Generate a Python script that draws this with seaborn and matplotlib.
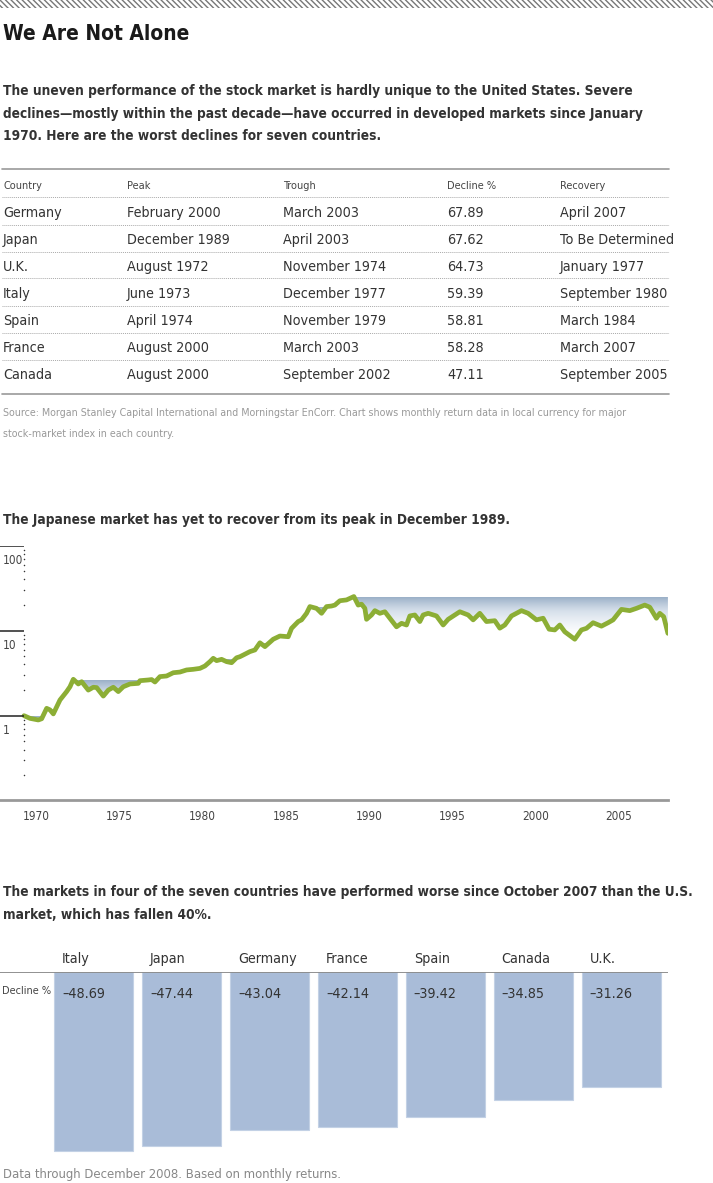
import numpy as np
import matplotlib.pyplot as plt
import seaborn as sns
from matplotlib import font_manager
from matplotlib.colors import LinearSegmentedColormap
from matplotlib.lines import Line2D
from matplotlib.patches import Rectangle, Polygon

# ---- data ----
table_headers = ['Country', 'Peak', 'Trough', 'Decline %', 'Recovery']
table_countries = ['Germany', 'Japan', 'U.K.', 'Italy', 'Spain', 'France', 'Canada']
table_peaks = ['February 2000', 'December 1989', 'August 1972', 'June 1973',
               'April 1974', 'August 2000', 'August 2000']
table_troughs = ['March 2003', 'April 2003', 'November 1974', 'December 1977',
                 'November 1979', 'March 2003', 'September 2002']
table_declines = [67.89, 67.62, 64.73, 59.39, 58.81, 58.28, 47.11]
table_recoveries = ['April 2007', 'To Be Determined', 'January 1977', 'September 1980',
                    'March 1984', 'March 2007', 'September 2005']

# Japan index, growth of 1 since Jan 1970
japan_years = [1970.0, 1970.36, 1970.86, 1971.06, 1971.36, 1971.56, 1971.76, 1972.16,
               1972.56, 1972.76, 1972.96, 1973.26, 1973.46, 1973.86, 1974.16, 1974.36,
               1974.76, 1975.06, 1975.36, 1975.66, 1975.96, 1976.36, 1976.86, 1976.96,
               1977.46, 1977.66, 1977.86, 1978.16, 1978.56, 1978.96, 1979.36, 1979.76,
               1980.16, 1980.56, 1980.86, 1981.16, 1981.36, 1981.56, 1981.86, 1982.16,
               1982.46, 1982.76, 1982.96, 1983.16, 1983.56, 1983.86, 1984.16, 1984.46,
               1984.96, 1985.36, 1985.86, 1986.06, 1986.46, 1986.66, 1986.96, 1987.16,
               1987.56, 1987.86, 1988.16, 1988.46, 1988.66, 1988.96, 1989.36, 1989.8,
               1990.06, 1990.26, 1990.46, 1990.56, 1990.86, 1991.06, 1991.36, 1991.66,
               1991.96, 1992.36, 1992.66, 1992.96, 1993.16, 1993.46, 1993.76, 1993.96,
               1994.26, 1994.76, 1995.16, 1995.46, 1995.86, 1996.16, 1996.66, 1996.96,
               1997.36, 1997.76, 1998.26, 1998.56, 1998.86, 1999.26, 1999.86, 2000.26,
               2000.76, 2001.16, 2001.52, 2001.86, 2002.16, 2002.46, 2003.06, 2003.46,
               2003.76, 2004.16, 2004.66, 2005.06, 2005.36, 2005.86, 2006.36, 2006.76,
               2007.26, 2007.56, 2007.96, 2008.16, 2008.4, 2008.65]
japan_values = [1.0, 0.93, 0.89, 0.92, 1.22, 1.17, 1.05, 1.53,
                1.92, 2.19, 2.68, 2.36, 2.51, 2.0, 2.16, 2.14,
                1.70, 2.0, 2.16, 1.92, 2.19, 2.36, 2.40, 2.58,
                2.63, 2.66, 2.49, 2.88, 2.93, 3.2, 3.26, 3.45,
                3.51, 3.6, 3.84, 4.32, 4.73, 4.44, 4.6, 4.32,
                4.2, 4.8, 4.94, 5.17, 5.67, 5.93, 7.2, 6.49,
                7.93, 8.65, 8.49, 10.65, 12.8, 13.4, 16.0, 19.2,
                18.3, 16.0, 19.2, 19.5, 20.0, 22.5, 23.0, 25.2,
                20.0, 20.5, 18.3, 13.6, 15.3, 17.2, 16.0, 16.7,
                14.0, 11.1, 12.2, 11.66, 14.9, 15.3, 12.8, 15.3,
                16.0, 14.9, 11.66, 13.6, 15.3, 16.7, 15.3, 13.4,
                16.0, 12.8, 13.1, 10.7, 11.66, 14.9, 17.2, 16.0,
                13.4, 14.0, 10.4, 10.2, 11.66, 9.7, 7.93, 10.2,
                10.65, 12.4, 11.3, 12.4, 13.4, 17.8, 17.2, 18.3,
                20.0, 18.9, 14.0, 16.0, 14.6, 9.3]
tick_years = [1970, 1975, 1980, 1985, 1990, 1995, 2000, 2005]
y_labels = [100, 10, 1]

bar_countries = ['Italy', 'Japan', 'Germany', 'France', 'Spain', 'Canada', 'U.K.']
bar_declines = [-48.69, -47.44, -43.04, -42.14, -39.42, -34.85, -31.26]

# ---- style ----
W, H = 713, 1183
sns.set_theme(style='white')
names = {f.name for f in font_manager.fontManager.ttflist}
narrow = 'Liberation Sans Narrow' if 'Liberation Sans Narrow' in names else 'DejaVu Sans'
plt.rcParams['font.family'] = [narrow, 'DejaVu Sans']
if narrow == 'DejaVu Sans':
    plt.rcParams['font.stretch'] = 'condensed'

DARK = '#333333'
GREEN = '#8cae35'
BAR = '#a9bcd8'
BOLD = 9.8
BODY = 10.3

fig = plt.figure(figsize=(W / 100, H / 100), dpi=100)


def fy(py):
    return 1 - py / H


def ftext(px, py, s, **kw):
    kw.setdefault('va', 'baseline')
    fig.text(px / W, fy(py), s, **kw)


def fline(x0, x1, py, **kw):
    fig.add_artist(Line2D([x0 / W, x1 / W], [fy(py), fy(py)], transform=fig.transFigure, **kw))


# hatched band on top
fig.add_artist(Rectangle((0, fy(8)), 1, 8 / H, transform=fig.transFigure,
                         facecolor='white', edgecolor='#777777', hatch='\\' * 6, lw=0))

ftext(3, 39.5, 'We Are Not Alone', fontsize=15, fontweight='bold', color='#1a1a1a')
intro = ['The uneven performance of the stock market is hardly unique to the United States. Severe',
         'declines\u2014mostly within the past decade\u2014have occurred in developed markets since January',
         '1970. Here are the worst declines for seven countries.']
for i, line in enumerate(intro):
    ftext(3, 95 + i * 22.7, line, fontsize=BOLD, fontweight='bold', color=DARK)

# ---- table ----
col_x = [3, 127, 283, 447, 560]
fline(2, 669, 168.5, color='#999999', lw=1.2)
for x, h in zip(col_x, table_headers):
    ftext(x, 189.3, h, fontsize=7.8, color='#444444')
fline(2, 669, 197, color='#aaaaaa', lw=0.7, ls=(0, (1, 1)))
for r, row in enumerate(zip(table_countries, table_peaks, table_troughs,
                            table_declines, table_recoveries)):
    yc = 211 + r * 27
    cells = [row[0], row[1], row[2], f'{row[3]:.2f}', row[4]]
    for x, c in zip(col_x, cells):
        ftext(x, yc + 5.8, c, fontsize=BODY, color=DARK)
    if r < len(table_countries) - 1:
        fline(2, 669, yc + 13.5, color='#aaaaaa', lw=0.7, ls=(0, (1, 1)))
fline(2, 669, 394.5, color='#999999', lw=1.2)
ftext(3, 416, 'Source: Morgan Stanley Capital International and Morningstar EnCorr. Chart shows '
      'monthly return data in local currency for major', fontsize=7.7, color='#999999')
ftext(3, 437, 'stock-market index in each country.', fontsize=7.7, color='#999999')

# ---- line chart ----
ftext(3, 524, 'The Japanese market has yet to recover from its peak in December 1989.',
      fontsize=BOLD, fontweight='bold', color=DARK)

px_year = 16.66
x_lo = 1970 - 24 / px_year
x_hi = 1970 + 644.3 / px_year
ax = fig.add_axes([0, fy(800), 668.3 / W, 254 / H])
ax.set_yscale('log')
ax.set_xlim(x_lo, x_hi)
ax.set_ylim(10 ** (-0.992), 10 ** 1.996)

# drawdown shading with a vertical fade from the peak level
xs_all = np.array(japan_years)
vs_all = np.array(japan_values)
cmap = LinearSegmentedColormap.from_list('fade', ['#ffffff', '#d5dfea', '#96acc5'])
grad = np.linspace(0, 1, 256).reshape(-1, 1)
i = 0
n = len(vs_all)
while i < n - 1:
    if vs_all[i + 1] < vs_all[i] and vs_all[i] >= vs_all[:i + 1].max():
        peak = vs_all[i]
        j = i + 1
        while j < n and vs_all[j] < peak:
            j += 1
        px = [xs_all[i]] + list(xs_all[i + 1:j])
        py = [peak] + list(vs_all[i + 1:j])
        if j < n:
            t = (np.log(peak) - np.log(vs_all[j - 1])) / (np.log(vs_all[j]) - np.log(vs_all[j - 1]))
            px.append(xs_all[j - 1] + t * (xs_all[j] - xs_all[j - 1]))
            py.append(peak)
        else:
            px.append(xs_all[-1])
            py.append(peak)
        poly = Polygon(np.column_stack([px, py]), closed=True, facecolor='none',
                       edgecolor='none', transform=ax.transData)
        ax.add_patch(poly)
        im = ax.imshow(grad, extent=(min(px), max(px), peak / 10 ** 0.45, peak), origin='lower',
                       aspect='auto', cmap=cmap, interpolation='bilinear', zorder=1)
        im.set_clip_path(poly)
        i = j
    else:
        i += 1

sns.lineplot(x=japan_years, y=japan_values, ax=ax, color=GREEN, lw=3.4, zorder=3)
ax.set_xlim(x_lo, x_hi)
ax.set_ylim(10 ** (-0.992), 10 ** 1.996)

# axis decorations
ax.hlines(y_labels, x_lo, 1970.0, color='#222222', lw=1.1, zorder=4)
minor = [m * 10.0 ** e for e in (-1, 0, 1) for m in range(2, 10)]
ax.scatter([1969.97] * len(minor), minor, s=1.2, color='#333333', zorder=4, linewidths=0)
for v in y_labels:
    ax.annotate(str(v), xy=(0, v), xycoords=('axes fraction', 'data'), xytext=(3, -8),
                textcoords='offset pixels', va='top', ha='left', fontsize=8.5, color='#444444')

ax.set_xticks([y + 0.72 for y in tick_years], [str(y) for y in tick_years])
ax.set_yticks([])
ax.minorticks_off()
ax.tick_params(axis='x', length=0, pad=7, labelsize=8.5, labelcolor='#444444')
ax.set_xlabel('')
ax.set_ylabel('')
for s in ['top', 'left', 'right']:
    ax.spines[s].set_visible(False)
ax.spines['bottom'].set_color('#999999')
ax.spines['bottom'].set_linewidth(2)
ax.grid(False)
ax.set_facecolor('none')

# ---- bar chart ----
ftext(3, 896, 'The markets in four of the seven countries have performed worse since October 2007 '
      'than the U.S.', fontsize=BOLD, fontweight='bold', color=DARK)
ftext(3, 919, 'market, which has fallen 40%.', fontsize=BOLD, fontweight='bold', color=DARK)

px_unit = 3.675
axb = fig.add_axes([0, fy(972 + 50 * px_unit), 668 / W, 50 * px_unit / H])
sns.barplot(x=bar_countries, y=bar_declines, ax=axb, color=BAR, saturation=1, width=0.9,
            edgecolor='#c3d1e5', linewidth=0.8)
axb.set_xlim(-93.8 / 87.9, (668 - 93.8) / 87.9)
axb.set_ylim(-50, 0)
axb.axhline(0, color='#888888', lw=1.3, zorder=5)
for k, (c, v) in enumerate(zip(bar_countries, bar_declines)):
    axb.annotate(c, xy=(k - 0.45, 0), xytext=(8, 9), textcoords='offset pixels',
                 va='baseline', ha='left', fontsize=BODY, color=DARK, annotation_clip=False)
    axb.annotate(f'\u2013{abs(v):.2f}', xy=(k - 0.45, 0), xytext=(8, -25.7),
                 textcoords='offset pixels', va='baseline', ha='left', fontsize=BODY, color=DARK)
axb.axis('off')
ftext(2, 994, 'Decline %', fontsize=7.8, color='#444444')

ftext(3, 1178, 'Data through December 2008. Based on monthly returns.', fontsize=9.4,
      color='#888888')

fig.savefig('out.png', dpi=100)
